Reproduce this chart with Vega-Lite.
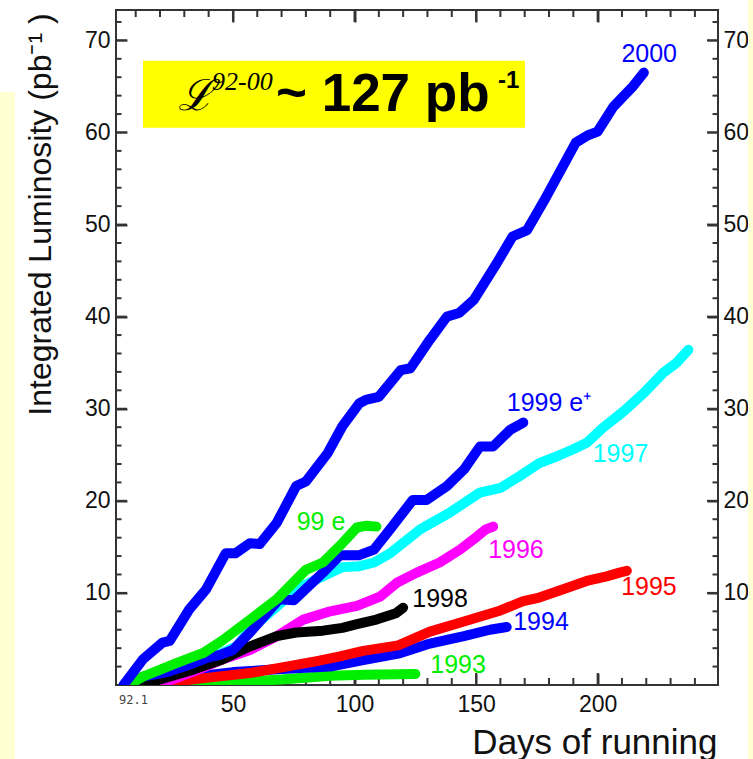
{
  "$schema": "https://vega.github.io/schema/vega-lite/v6.json",
  "width": 602,
  "height": 675,
  "autosize": {"type": "none"},
  "padding": {"left": 116, "top": 10, "right": 35, "bottom": 74},
  "background": "white",
  "config": {"view": {"stroke": "#333", "strokeWidth": 2}, "font": "Liberation Sans"},
  "datasets": {
    "one": [{}],
    "xticks": [
      {"v": 10, "major": false}, {"v": 20, "major": false}, {"v": 30, "major": false}, {"v": 40, "major": false}, {"v": 50, "major": true},
      {"v": 60, "major": false}, {"v": 70, "major": false}, {"v": 80, "major": false}, {"v": 90, "major": false}, {"v": 100, "major": true},
      {"v": 110, "major": false}, {"v": 120, "major": false}, {"v": 130, "major": false}, {"v": 140, "major": false}, {"v": 150, "major": true},
      {"v": 160, "major": false}, {"v": 170, "major": false}, {"v": 180, "major": false}, {"v": 190, "major": false}, {"v": 200, "major": true},
      {"v": 210, "major": false}, {"v": 220, "major": false}, {"v": 230, "major": false}, {"v": 240, "major": false}
    ],
    "yticks": [
      {"v": 2, "major": false}, {"v": 4, "major": false}, {"v": 6, "major": false}, {"v": 8, "major": false}, {"v": 10, "major": true},
      {"v": 12, "major": false}, {"v": 14, "major": false}, {"v": 16, "major": false}, {"v": 18, "major": false}, {"v": 20, "major": true},
      {"v": 22, "major": false}, {"v": 24, "major": false}, {"v": 26, "major": false}, {"v": 28, "major": false}, {"v": 30, "major": true},
      {"v": 32, "major": false}, {"v": 34, "major": false}, {"v": 36, "major": false}, {"v": 38, "major": false}, {"v": 40, "major": true},
      {"v": 42, "major": false}, {"v": 44, "major": false}, {"v": 46, "major": false}, {"v": 48, "major": false}, {"v": 50, "major": true},
      {"v": 52, "major": false}, {"v": 54, "major": false}, {"v": 56, "major": false}, {"v": 58, "major": false}, {"v": 60, "major": true},
      {"v": 62, "major": false}, {"v": 64, "major": false}, {"v": 66, "major": false}, {"v": 68, "major": false}, {"v": 70, "major": true},
      {"v": 72, "major": false}
    ],
    "lines": [
      {"series": "1993", "day": 15, "lum": 0}, {"series": "1993", "day": 30, "lum": 0.1}, {"series": "1993", "day": 50, "lum": 0.3}, {"series": "1993", "day": 70, "lum": 0.6}, {"series": "1993", "day": 90, "lum": 1.0}, {"series": "1993", "day": 104, "lum": 1.1}, {"series": "1993", "day": 125, "lum": 1.2},
      {"series": "1994", "day": 7, "lum": 0}, {"series": "1994", "day": 13, "lum": 0.2}, {"series": "1994", "day": 30, "lum": 0.8}, {"series": "1994", "day": 50, "lum": 1.4}, {"series": "1994", "day": 68, "lum": 1.7}, {"series": "1994", "day": 90, "lum": 2.0}, {"series": "1994", "day": 103.6, "lum": 2.7}, {"series": "1994", "day": 118, "lum": 3.4}, {"series": "1994", "day": 131, "lum": 4.5}, {"series": "1994", "day": 145, "lum": 5.3}, {"series": "1994", "day": 155.7, "lum": 6.0}, {"series": "1994", "day": 162.6, "lum": 6.3},
      {"series": "1995", "day": 15, "lum": 0}, {"series": "1995", "day": 20, "lum": 0.2}, {"series": "1995", "day": 40, "lum": 0.8}, {"series": "1995", "day": 57, "lum": 1.3}, {"series": "1995", "day": 72, "lum": 2.0}, {"series": "1995", "day": 84.5, "lum": 2.6}, {"series": "1995", "day": 94, "lum": 3.1}, {"series": "1995", "day": 103.6, "lum": 3.7}, {"series": "1995", "day": 118, "lum": 4.3}, {"series": "1995", "day": 131, "lum": 5.8}, {"series": "1995", "day": 145, "lum": 6.9}, {"series": "1995", "day": 159, "lum": 8.0}, {"series": "1995", "day": 169.4, "lum": 9.1}, {"series": "1995", "day": 176, "lum": 9.5}, {"series": "1995", "day": 187, "lum": 10.5}, {"series": "1995", "day": 195.5, "lum": 11.3}, {"series": "1995", "day": 203.7, "lum": 11.8}, {"series": "1995", "day": 209, "lum": 12.2}, {"series": "1995", "day": 212, "lum": 12.4},
      {"series": "1996", "day": 15, "lum": 0}, {"series": "1996", "day": 25, "lum": 0.6}, {"series": "1996", "day": 35, "lum": 1.6}, {"series": "1996", "day": 45, "lum": 2.7}, {"series": "1996", "day": 57, "lum": 3.8}, {"series": "1996", "day": 68, "lum": 5.3}, {"series": "1996", "day": 79, "lum": 7.1}, {"series": "1996", "day": 90, "lum": 8.0}, {"series": "1996", "day": 101, "lum": 8.6}, {"series": "1996", "day": 110.5, "lum": 9.6}, {"series": "1996", "day": 117.4, "lum": 11.1}, {"series": "1996", "day": 125.6, "lum": 12.2}, {"series": "1996", "day": 135, "lum": 13.3}, {"series": "1996", "day": 143.4, "lum": 14.7}, {"series": "1996", "day": 150.3, "lum": 16.1}, {"series": "1996", "day": 154, "lum": 16.9}, {"series": "1996", "day": 157, "lum": 17.2},
      {"series": "1997", "day": 8, "lum": 0}, {"series": "1997", "day": 20, "lum": 1.0}, {"series": "1997", "day": 30, "lum": 1.8}, {"series": "1997", "day": 40, "lum": 2.8}, {"series": "1997", "day": 51.5, "lum": 4.2}, {"series": "1997", "day": 57, "lum": 6.0}, {"series": "1997", "day": 68, "lum": 8.5}, {"series": "1997", "day": 76, "lum": 10.4}, {"series": "1997", "day": 87, "lum": 11.8}, {"series": "1997", "day": 95, "lum": 12.8}, {"series": "1997", "day": 102, "lum": 12.9}, {"series": "1997", "day": 108, "lum": 13.3}, {"series": "1997", "day": 114.6, "lum": 14.3}, {"series": "1997", "day": 127, "lum": 16.9}, {"series": "1997", "day": 139, "lum": 18.7}, {"series": "1997", "day": 151.6, "lum": 20.9}, {"series": "1997", "day": 160, "lum": 21.4}, {"series": "1997", "day": 168, "lum": 22.7}, {"series": "1997", "day": 176, "lum": 24.1}, {"series": "1997", "day": 182, "lum": 24.7}, {"series": "1997", "day": 190, "lum": 25.6}, {"series": "1997", "day": 195.5, "lum": 26.3}, {"series": "1997", "day": 202, "lum": 27.9}, {"series": "1997", "day": 210.6, "lum": 29.7}, {"series": "1997", "day": 219, "lum": 31.7}, {"series": "1997", "day": 227, "lum": 33.9}, {"series": "1997", "day": 232.5, "lum": 35.0}, {"series": "1997", "day": 237.3, "lum": 36.4},
      {"series": "1998", "day": 12, "lum": 0}, {"series": "1998", "day": 20, "lum": 0.6}, {"series": "1998", "day": 34, "lum": 1.7}, {"series": "1998", "day": 45, "lum": 2.7}, {"series": "1998", "day": 57, "lum": 4.2}, {"series": "1998", "day": 68, "lum": 5.3}, {"series": "1998", "day": 76, "lum": 5.7}, {"series": "1998", "day": 87, "lum": 5.9}, {"series": "1998", "day": 95, "lum": 6.2}, {"series": "1998", "day": 101, "lum": 6.6}, {"series": "1998", "day": 109, "lum": 7.1}, {"series": "1998", "day": 117, "lum": 7.8}, {"series": "1998", "day": 120, "lum": 8.4},
      {"series": "1999 e+", "day": 7, "lum": 0}, {"series": "1999 e+", "day": 13, "lum": 0.9}, {"series": "1999 e+", "day": 23, "lum": 1.4}, {"series": "1999 e+", "day": 30, "lum": 2.0}, {"series": "1999 e+", "day": 40, "lum": 3.0}, {"series": "1999 e+", "day": 45, "lum": 3.3}, {"series": "1999 e+", "day": 50, "lum": 3.8}, {"series": "1999 e+", "day": 57, "lum": 5.7}, {"series": "1999 e+", "day": 61, "lum": 6.9}, {"series": "1999 e+", "day": 69, "lum": 9.3}, {"series": "1999 e+", "day": 75, "lum": 9.2}, {"series": "1999 e+", "day": 87, "lum": 12.2}, {"series": "1999 e+", "day": 94, "lum": 14.1}, {"series": "1999 e+", "day": 102, "lum": 14.1}, {"series": "1999 e+", "day": 108, "lum": 14.7}, {"series": "1999 e+", "day": 114.6, "lum": 16.9}, {"series": "1999 e+", "day": 124, "lum": 20.1}, {"series": "1999 e+", "day": 129.7, "lum": 20.1}, {"series": "1999 e+", "day": 138, "lum": 21.6}, {"series": "1999 e+", "day": 145, "lum": 23.4}, {"series": "1999 e+", "day": 151.6, "lum": 25.9}, {"series": "1999 e+", "day": 157, "lum": 25.9}, {"series": "1999 e+", "day": 164, "lum": 27.7}, {"series": "1999 e+", "day": 169.4, "lum": 28.5},
      {"series": "99 e", "day": 7, "lum": 0}, {"series": "99 e", "day": 13, "lum": 0.9}, {"series": "99 e", "day": 27, "lum": 2.4}, {"series": "99 e", "day": 38, "lum": 3.5}, {"series": "99 e", "day": 46, "lum": 4.9}, {"series": "99 e", "day": 57, "lum": 7.1}, {"series": "99 e", "day": 68, "lum": 9.3}, {"series": "99 e", "day": 80, "lum": 12.5}, {"series": "99 e", "day": 87, "lum": 13.3}, {"series": "99 e", "day": 95, "lum": 15.4}, {"series": "99 e", "day": 101, "lum": 17.1}, {"series": "99 e", "day": 105, "lum": 17.3}, {"series": "99 e", "day": 109, "lum": 17.2},
      {"series": "2000", "day": 5, "lum": 0}, {"series": "2000", "day": 13, "lum": 2.8}, {"series": "2000", "day": 21, "lum": 4.6}, {"series": "2000", "day": 24, "lum": 4.8}, {"series": "2000", "day": 32, "lum": 8.2}, {"series": "2000", "day": 39, "lum": 10.4}, {"series": "2000", "day": 47, "lum": 14.3}, {"series": "2000", "day": 51, "lum": 14.3}, {"series": "2000", "day": 57, "lum": 15.4}, {"series": "2000", "day": 61, "lum": 15.3}, {"series": "2000", "day": 68, "lum": 17.6}, {"series": "2000", "day": 76, "lum": 21.6}, {"series": "2000", "day": 80, "lum": 22.1}, {"series": "2000", "day": 89, "lum": 25.2}, {"series": "2000", "day": 95, "lum": 28.1}, {"series": "2000", "day": 102, "lum": 30.6}, {"series": "2000", "day": 105, "lum": 31.0}, {"series": "2000", "day": 110, "lum": 31.3}, {"series": "2000", "day": 119, "lum": 34.2}, {"series": "2000", "day": 123, "lum": 34.4}, {"series": "2000", "day": 131, "lum": 37.5}, {"series": "2000", "day": 138, "lum": 40.0}, {"series": "2000", "day": 143, "lum": 40.4}, {"series": "2000", "day": 149, "lum": 41.8}, {"series": "2000", "day": 158.5, "lum": 45.8}, {"series": "2000", "day": 165, "lum": 48.7}, {"series": "2000", "day": 171, "lum": 49.4}, {"series": "2000", "day": 178, "lum": 52.6}, {"series": "2000", "day": 185, "lum": 56.0}, {"series": "2000", "day": 191, "lum": 58.9}, {"series": "2000", "day": 196, "lum": 59.7}, {"series": "2000", "day": 200, "lum": 60.1}, {"series": "2000", "day": 206.5, "lum": 62.8}, {"series": "2000", "day": 210.5, "lum": 63.9}, {"series": "2000", "day": 214.5, "lum": 65.0}, {"series": "2000", "day": 219, "lum": 66.5}
    ],
    "labels": [
      {"series": "2000", "label": "2000", "day": 221.2, "lum": 68.5},
      {"series": "1999 e+", "label": "1999 e⁺", "day": 180.0, "lum": 30.6},
      {"series": "1997", "label": "1997", "day": 209.4, "lum": 25.1},
      {"series": "99 e", "label": "99 e", "day": 86.2, "lum": 17.7},
      {"series": "1996", "label": "1996", "day": 166.4, "lum": 14.7},
      {"series": "1998", "label": "1998", "day": 135.2, "lum": 9.3},
      {"series": "1995", "label": "1995", "day": 221.1, "lum": 10.6},
      {"series": "1994", "label": "1994", "day": 176.7, "lum": 6.8},
      {"series": "1993", "label": "1993", "day": 142.6, "lum": 2.2}
    ]
  },
  "resolve": {"axis": {"x": "independent", "y": "independent"}},
  "layer": [
    {
      "data": {"name": "one"},
      "mark": {"type": "rect", "color": "#FFFF00"},
      "encoding": {
        "x": {"datum": 13.0, "type": "quantitative", "axis": null},
        "x2": {"datum": 170.1},
        "y": {"datum": 67.8, "type": "quantitative", "axis": null},
        "y2": {"datum": 60.5}
      }
    },
    {
      "data": {"name": "xticks"},
      "transform": [{"filter": "datum.major"}],
      "mark": {"type": "rule", "color": "#333", "strokeWidth": 2},
      "encoding": {
        "x": {"field": "v", "type": "quantitative", "axis": null},
        "y": {"datum": 0, "type": "quantitative", "axis": null},
        "y2": {"datum": 1.3}
      }
    },
    {
      "data": {"name": "xticks"},
      "transform": [{"filter": "!datum.major"}],
      "mark": {"type": "rule", "color": "#333", "strokeWidth": 2},
      "encoding": {
        "x": {"field": "v", "type": "quantitative", "axis": null},
        "y": {"datum": 0, "type": "quantitative", "axis": null},
        "y2": {"datum": 0.76}
      }
    },
    {
      "data": {"name": "xticks"},
      "transform": [{"filter": "datum.major"}],
      "mark": {"type": "rule", "color": "#333", "strokeWidth": 2},
      "encoding": {
        "x": {"field": "v", "type": "quantitative", "axis": null},
        "y": {"datum": 73.3, "type": "quantitative", "axis": null},
        "y2": {"datum": 72.0}
      }
    },
    {
      "data": {"name": "xticks"},
      "transform": [{"filter": "!datum.major"}],
      "mark": {"type": "rule", "color": "#333", "strokeWidth": 2},
      "encoding": {
        "x": {"field": "v", "type": "quantitative", "axis": null},
        "y": {"datum": 73.3, "type": "quantitative", "axis": null},
        "y2": {"datum": 72.54}
      }
    },
    {
      "data": {"name": "yticks"},
      "transform": [{"filter": "datum.major"}],
      "mark": {"type": "rule", "color": "#333", "strokeWidth": 2},
      "encoding": {
        "y": {"field": "v", "type": "quantitative", "axis": null},
        "x": {"datum": 1.9, "type": "quantitative", "axis": null},
        "x2": {"datum": 6.42}
      }
    },
    {
      "data": {"name": "yticks"},
      "transform": [{"filter": "!datum.major"}],
      "mark": {"type": "rule", "color": "#333", "strokeWidth": 2},
      "encoding": {
        "y": {"field": "v", "type": "quantitative", "axis": null},
        "x": {"datum": 1.9, "type": "quantitative", "axis": null},
        "x2": {"datum": 4.16}
      }
    },
    {
      "data": {"name": "yticks"},
      "transform": [{"filter": "datum.major"}],
      "mark": {"type": "rule", "color": "#333", "strokeWidth": 2},
      "encoding": {
        "y": {"field": "v", "type": "quantitative", "axis": null},
        "x": {"datum": 249.5, "type": "quantitative", "axis": null},
        "x2": {"datum": 244.98}
      }
    },
    {
      "data": {"name": "yticks"},
      "transform": [{"filter": "!datum.major"}],
      "mark": {"type": "rule", "color": "#333", "strokeWidth": 2},
      "encoding": {
        "y": {"field": "v", "type": "quantitative", "axis": null},
        "x": {"datum": 249.5, "type": "quantitative", "axis": null},
        "x2": {"datum": 247.24}
      }
    },
    {
      "data": {"name": "lines"},
      "mark": {"type": "line", "strokeWidth": 10, "strokeCap": "round", "strokeJoin": "round", "clip": true},
      "encoding": {
        "x": {
          "field": "day", "type": "quantitative",
          "scale": {"domain": [1.9, 249.5], "nice": false, "zero": false},
          "axis": {
            "orient": "bottom",
            "values": [50, 100, 150, 200],
            "ticks": true, "tickSize": -12, "tickColor": "#333", "tickWidth": 2,
            "domain": false, "grid": false,
            "labelFont": "Liberation Sans", "labelFontSize": 23, "labelColor": "#111",
            "labelPadding": 20, "labelFlush": false, "labelOverlap": false,
            "title": "Days of running", "titleFont": "Liberation Sans", "titleFontSize": 35,
            "titleFontWeight": "normal", "titleColor": "#111",
            "titleX": 601, "titleY": 57, "titleAlign": "right", "titleBaseline": "middle"
          }
        },
        "y": {
          "field": "lum", "type": "quantitative",
          "scale": {"domain": [0, 73.3], "nice": false, "zero": false},
          "axis": {
            "orient": "left",
            "values": [10, 20, 30, 40, 50, 60, 70],
            "ticks": true, "tickSize": -11, "tickColor": "#333", "tickWidth": 2,
            "domain": false, "grid": false,
            "labelFont": "Liberation Sans", "labelFontSize": 23, "labelColor": "#111",
            "labelPadding": 17, "labelFlush": false, "labelOverlap": false,
            "title": "Integrated Luminosity (pb⁻¹ )", "titleFont": "Liberation Sans", "titleFontSize": 32,
            "titleFontWeight": "normal", "titleColor": "#111",
            "titleX": -76, "titleY": 204, "titleAngle": -90, "titleAlign": "center", "titleBaseline": "middle"
          }
        },
        "color": {
          "field": "series", "type": "nominal",
          "scale": {
            "domain": ["1993", "1994", "1995", "1996", "1997", "1998", "1999 e+", "99 e", "2000"],
            "range": ["#00EE00", "#0000FF", "#FF0000", "#FF00FF", "#00FFFF", "#000000", "#0000FF", "#00EE00", "#0000FF"]
          },
          "legend": null
        }
      }
    },
    {
      "data": {"name": "labels"},
      "mark": {"type": "text", "font": "Liberation Sans", "fontSize": 25, "align": "center", "baseline": "middle", "clip": false},
      "encoding": {
        "x": {
          "field": "day", "type": "quantitative",
          "axis": {
            "orient": "top",
            "values": [50, 100, 150, 200],
            "labels": false,
            "ticks": true, "tickSize": -12, "tickColor": "#333", "tickWidth": 2,
            "domain": false, "grid": false, "title": null
          }
        },
        "y": {
          "field": "lum", "type": "quantitative",
          "axis": {
            "orient": "right",
            "values": [10, 20, 30, 40, 50, 60, 70],
            "ticks": true, "tickSize": -11, "tickColor": "#333", "tickWidth": 2,
            "domain": false, "grid": false,
            "labelFont": "Liberation Sans", "labelFontSize": 23, "labelColor": "#111",
            "labelPadding": 16, "labelFlush": false, "labelOverlap": false, "title": null
          }
        },
        "text": {"field": "label", "type": "nominal"},
        "color": {"field": "series", "type": "nominal", "legend": null}
      }
    },
    {
      "data": {"name": "one"},
      "mark": {"type": "text", "text": "ℒ", "font": "DejaVu Serif", "fontStyle": "italic", "fontSize": 43, "align": "left", "baseline": "alphabetic", "color": "#000"},
      "encoding": {
        "x": {"datum": 27.5, "type": "quantitative", "axis": null},
        "y": {"datum": 62.4, "type": "quantitative", "axis": null}
      }
    },
    {
      "data": {"name": "one"},
      "mark": {"type": "text", "text": "92-00", "font": "Liberation Serif", "fontStyle": "italic", "fontSize": 26, "align": "left", "baseline": "alphabetic", "color": "#000"},
      "encoding": {
        "x": {"datum": 41.4, "type": "quantitative", "axis": null},
        "y": {"datum": 64.65, "type": "quantitative", "axis": null}
      }
    },
    {
      "data": {"name": "one"},
      "mark": {"type": "text", "text": "~ 127 pb", "font": "Liberation Sans", "fontWeight": "bold", "fontSize": 53, "align": "left", "baseline": "alphabetic", "color": "#000"},
      "encoding": {
        "x": {"datum": 67.7, "type": "quantitative", "axis": null},
        "y": {"datum": 62.3, "type": "quantitative", "axis": null}
      }
    },
    {
      "data": {"name": "one"},
      "mark": {"type": "text", "text": "-1", "font": "Liberation Sans", "fontWeight": "bold", "fontSize": 24, "align": "left", "baseline": "alphabetic", "color": "#000"},
      "encoding": {
        "x": {"datum": 159.0, "type": "quantitative", "axis": null},
        "y": {"datum": 64.8, "type": "quantitative", "axis": null}
      }
    },
    {
      "data": {"name": "one"},
      "mark": {"type": "text", "text": "92.1", "font": "DejaVu Sans Mono", "fontSize": 12, "align": "center", "baseline": "middle", "color": "#444", "clip": false},
      "encoding": {
        "x": {"datum": 9.1, "type": "quantitative", "axis": null},
        "y": {"datum": -1.6, "type": "quantitative", "axis": null}
      }
    },
    {
      "data": {"name": "one"},
      "mark": {"type": "rect", "color": "#FFFFD4", "clip": false},
      "encoding": {
        "x": {"datum": -46, "type": "quantitative", "axis": null},
        "x2": {"datum": -39.7},
        "y": {"datum": 64.4, "type": "quantitative", "axis": null},
        "y2": {"datum": -8.5}
      }
    },
    {
      "data": {"name": "one"},
      "mark": {"type": "rect", "color": "#FFFFD4", "clip": false},
      "encoding": {
        "x": {"datum": 261.9, "type": "quantitative", "axis": null},
        "x2": {"datum": 266},
        "y": {"datum": 75, "type": "quantitative", "axis": null},
        "y2": {"datum": -8.5}
      }
    }
  ]
}
